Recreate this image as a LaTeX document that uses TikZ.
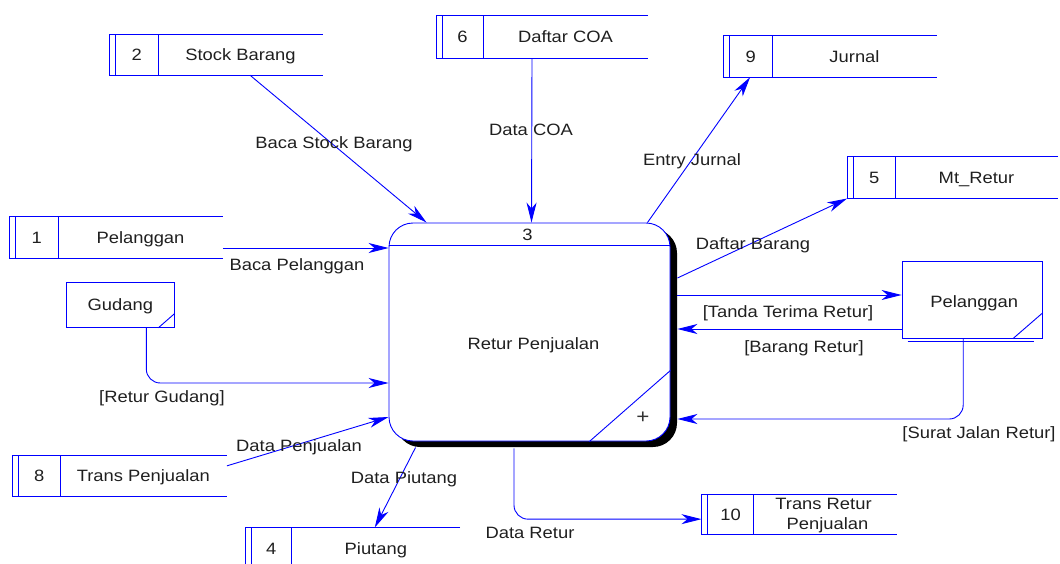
\documentclass[tikz,border=0pt]{standalone}
\usepackage{fontspec}
\setmainfont{Liberation Sans}[FakeStretch=1.12]
\usetikzlibrary{arrows.meta,calc}

% data store: name, left x, divider x, right x, top y, bottom y, id, title
\newcommand\dstore[8]{%
  \node[inner sep=0pt, minimum width={(#4)-(#2)}, minimum height={(#6)-(#5)}]
    (#1) at ({((#2)+(#4))/2},{((#5)+(#6))/2}) {};
  \draw[line] (#4,#5) -- (#2,#5) -- (#2,#6) -- (#4,#6);
  \draw[line] ({(#2)+6},#5) -- ({(#2)+6},#6);
  \draw[line] (#3,#5) -- (#3,#6);
  \node[lbl] (#1-id) at ({((#2)+6+(#3))/2},{((#5)+(#6))/2}) {#7};
  \node[lbl] (#1-title) at ({((#3)+(#4))/2},{((#5)+(#6))/2}) {#8};
}

\begin{document}
\begin{tikzpicture}[x=1pt, y=-1pt,
  line/.style={blue, line width=0.9pt},
  flow/.style={line, -{Stealth[length=20pt, width=10pt, inset=6pt]}},
  txt/.style={font=\fontsize{16.4}{19}\selectfont, text=black!88},
  lbl/.style={txt, inner sep=0pt, text height=11.7pt, text depth=0pt},
  entity/.style={line, draw, fill=white, inner sep=0pt},
]
\useasboundingbox (0,0) rectangle (1060,563);

% ---------- process 3 ----------
\fill[black, rounded corners=24pt] (396,229) rectangle (677,447);
\node[line, draw, fill=white, rounded corners=24pt, inner sep=0pt,
      minimum width=281, minimum height=218] (P) at (529.5,332) {};
\draw[line] ($(P.north west)+(0,23)$) -- ($(P.north east)+(0,23)$);
\draw[line] ($(P.south east)+(0,-71)$) -- ($(P.south east)+(-81,0)$);
\node[lbl] (P-id) at ($(P.north)+(-2,12)$) {3};
\node[lbl] (P-name) at ($(P.center)+(4,12)$) {Retur Penjualan};
\node[font=\fontsize{20}{20}\selectfont, text=black!80, inner sep=0pt] (P-plus) at (643,418) {+};

% ---------- data stores ----------
\dstore{s2}{109.3}{158.3}{322.7}{34}{75}{2}{Stock Barang}
\dstore{s6}{436}{483}{648}{15.3}{58.3}{6}{Daftar COA}
\dstore{s9}{723.3}{772.3}{936.7}{35.3}{77}{9}{Jurnal}
\dstore{s5}{847.3}{895}{1058}{156.7}{198.3}{5}{Mt\_Retur}
\dstore{s1}{9.3}{58.3}{222.7}{216.7}{258.3}{1}{Pelanggan}
\dstore{s8}{12.7}{60}{226.7}{455}{496.7}{8}{Trans Penjualan}
\dstore{s4}{245}{291.7}{460}{527.7}{569}{4}{Piutang}
\dstore{s10}{701.7}{753.3}{896.7}{494}{534.3}{10}{}
\node[lbl] (s10-title-a) at (823.5,504) {Trans Retur};
\node[lbl] (s10-title-b) at (827.5,524) {Penjualan};

% ---------- external entities ----------
\node[entity, minimum width=107.3, minimum height=44.6] (G) at (120.3,305) {};
\node[lbl] (G-name) at (G.center) {Gudang};
\draw[line] ($(G.south east)+(0,-14)$) -- ($(G.south east)+(-16,0)$);

\node[entity, minimum width=140.3, minimum height=76.6] (C) at (972.2,300) {};
\node[lbl] (C-name) at ($(C.center)+(2,1.5)$) {Pelanggan};
\draw[line] ($(C.south east)+(0,-26)$) -- ($(C.south east)+(-30,0)$);
\draw[line] ($(C.south west)+(6,2.2)$) -- ($(C.south east)+(-9,2.2)$);

% ---------- data flows ----------
\draw[flow] ($(s2.south)+(34,0)$) -- ($(P.north west)+(38,0)$);
\draw[flow] ($(s6.south)+(-10,0)$) -- ($(P.north)+(2,0)$);
\draw[flow] ($(P.north east)+(-23,0)$) -- ($(s9.south west)+(27,0)$);
\draw[flow] ($(P.east)+(7,-54)$) -- (s5.south west);
\draw[flow] ($(P.east)+(7,-37)$) -- ($(C.west)+(0,-5)$);
\draw[flow] ($(C.west)+(0,29)$) -- ($(P.east)+(7,-3)$);
\draw[flow, rounded corners=14pt] ($(C.south)+(-9,0)$) |- ($(P.east)+(7,87)$);
\draw[flow, rounded corners=14pt] ($(P.south)+(-15.5,7)$) |- ($(s10.west)+(0,5)$);
\draw[flow] ($(P.south west)+(27,6)$) -- ($(s4.north west)+(130,0)$);
\draw[flow] ($(s8.east)+(0,-10)$) -- ($(P.west)+(0,85)$);
\draw[flow, rounded corners=14pt] ($(G.south)+(26,0)$) |- ($(P.west)+(0,51)$);
\draw[flow] ($(s1.east)+(0,10.5)$) -- ($(P.west)+(0,-84)$);

% ---------- flow labels ----------
\node[lbl] (l-stock) at (334,143) {Baca Stock Barang};
\node[lbl] (l-coa) at (531,130) {Data COA};
\node[lbl] (l-jurnal) at (692,160) {Entry Jurnal};
\node[lbl] (l-daftar) at (753,244) {Daftar Barang};
\node[lbl] (l-tanda) at (788,312) {[Tanda Terima Retur]};
\node[lbl] (l-barang) at (804,347) {[Barang Retur]};
\node[lbl] (l-surat) at (979,433) {[Surat Jalan Retur]};
\node[lbl] (l-retur) at (530,533) {Data Retur};
\node[lbl] (l-piutang) at (404,478) {Data Piutang};
\node[lbl] (l-jual) at (299,446) {Data Penjualan};
\node[lbl] (l-gudang) at (162,397) {[Retur Gudang]};
\node[lbl] (l-plg) at (297,265) {Baca Pelanggan};
\end{tikzpicture}
\end{document}
